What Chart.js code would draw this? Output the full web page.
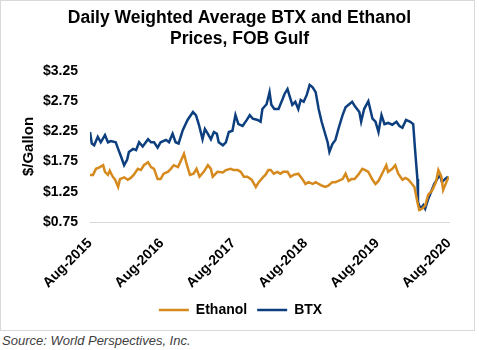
<!DOCTYPE html>
<html>
<head>
<meta charset="utf-8">
<script src="https://cdn.jsdelivr.net/npm/chart.js@4.4.1/dist/chart.umd.min.js"></script>
<style>
  html, body { margin: 0; padding: 0; background: #fff; }
  #box { position: absolute; left: 0; top: 0; width: 473px; height: 329px; border: 1px solid #d9d9d9; }
  #source { position: absolute; left: 2px; top: 333px; font: italic 13px "Liberation Sans", Arial, sans-serif; color: #404040; }
</style>
</head>
<body>
<div id="box"><canvas id="chart"></canvas></div>
<div id="source">Source: World Perspectives, Inc.</div>
<script>
// Daily weighted average BTX and Ethanol prices, FOB Gulf
// x values are months since Aug-2015

const tickLabels = ['Aug-2015', 'Aug-2016', 'Aug-2017', 'Aug-2018', 'Aug-2019', 'Aug-2020'];

const btxMonths = [0, 0.3, 0.7, 1.3, 1.8, 2.5, 3.0, 3.5, 4.3, 4.7, 5.2, 5.7, 6.2, 6.5, 7.2, 7.7, 8.2, 8.8, 9.7, 10.2,
  10.7, 11.3, 11.8, 12.7, 13.2, 13.8, 14.3, 14.8, 15.5, 16.3, 17.2, 17.7, 18.2, 18.8, 19.2, 19.7, 20.2, 20.7, 21.2, 21.5,
  22.2, 22.7, 23.2, 23.8, 24.3, 24.8, 25.5, 26.2, 26.7, 27.2, 28.0, 28.5, 28.8, 29.5, 30.0, 30.3, 30.8, 31.5, 32.2, 32.5,
  33.0, 33.3, 33.8, 34.3, 34.8, 35.2, 35.7, 36.2, 36.7, 37.2, 37.7, 38.2, 38.7, 39.2, 39.7, 40.0, 40.5, 41.0, 41.5, 42.2,
  42.7, 43.2, 43.8, 44.3, 45.0, 45.3, 45.8, 46.5, 47.2, 47.7, 48.2, 48.7, 49.2, 49.8, 50.5, 51.2, 51.7, 52.2, 52.8, 53.5,
  54.0, 54.3, 54.7, 54.8, 55.2, 55.7, 56.0, 56.5, 57.0, 57.5, 58.0, 58.5, 58.8, 59.3, 59.8];
const btxPrice = [2.24, 2.05, 2.02, 2.16, 2.07, 2.19, 2.07, 2.09, 2.07, 1.96, 1.83, 1.69, 1.78, 1.91, 1.96, 1.94, 2.07, 2.00, 2.12, 2.07,
  2.07, 1.98, 2.07, 2.11, 2.07, 2.21, 2.07, 2.05, 2.27, 2.44, 2.57, 2.52, 2.36, 2.12, 2.29, 2.21, 2.12, 2.24, 2.21, 2.07,
  2.02, 2.07, 2.24, 2.26, 2.52, 2.37, 2.34, 2.44, 2.52, 2.46, 2.44, 2.41, 2.62, 2.70, 2.90, 2.69, 2.62, 2.62, 2.79, 2.87,
  2.95, 2.85, 2.69, 2.74, 2.62, 2.77, 2.74, 2.85, 3.02, 2.98, 2.90, 2.62, 2.41, 2.24, 2.07, 1.91, 2.04, 2.11, 2.29, 2.52,
  2.65, 2.69, 2.74, 2.66, 2.57, 2.41, 2.62, 2.75, 2.46, 2.41, 2.24, 2.52, 2.37, 2.39, 2.36, 2.41, 2.34, 2.31, 2.44, 2.41,
  2.37, 1.96, 1.46, 1.08, 0.97, 1.03, 0.97, 1.13, 1.25, 1.38, 1.46, 1.53, 1.41, 1.46, 1.50];

const ethMonths = [0, 0.5, 1.0, 1.5, 2.2, 2.5, 3.0, 3.3, 3.8, 4.2, 4.7, 5.0, 5.7, 6.3, 6.8, 7.3, 8.0, 8.5, 9.0, 9.7,
  10.2, 10.7, 11.3, 11.8, 12.3, 13.0, 13.5, 14.0, 14.7, 15.3, 15.7, 16.2, 16.7, 17.3, 17.8, 18.3, 19.0, 19.7, 20.2, 20.5,
  21.3, 22.2, 22.7, 23.5, 24.0, 24.7, 25.2, 25.7, 26.3, 27.0, 27.7, 28.2, 29.0, 29.3, 29.8, 30.2, 30.7, 31.3, 31.8, 32.3,
  33.0, 33.5, 34.0, 34.8, 35.5, 36.0, 36.5, 37.2, 37.7, 38.2, 38.8, 39.3, 39.8, 40.5, 41.0, 41.5, 42.2, 42.7, 43.2, 43.7,
  44.2, 44.8, 45.5, 46.0, 46.5, 47.2, 47.7, 48.2, 48.8, 49.5, 49.8, 50.5, 51.0, 51.5, 52.2, 52.7, 53.2, 53.8, 54.2, 54.7,
  55.0, 55.5, 56.0, 56.5, 57.2, 57.8, 58.2, 58.7, 59.0, 59.7, 60.0];
const ethPrice = [1.53, 1.53, 1.63, 1.65, 1.69, 1.58, 1.53, 1.60, 1.50, 1.45, 1.33, 1.46, 1.49, 1.45, 1.48, 1.53, 1.63, 1.61, 1.69, 1.74,
  1.66, 1.63, 1.46, 1.46, 1.55, 1.58, 1.63, 1.69, 1.66, 1.79, 1.88, 1.69, 1.53, 1.55, 1.63, 1.50, 1.58, 1.69, 1.63, 1.50,
  1.58, 1.57, 1.61, 1.63, 1.61, 1.61, 1.58, 1.50, 1.50, 1.45, 1.33, 1.41, 1.50, 1.53, 1.61, 1.61, 1.55, 1.58, 1.55, 1.58,
  1.58, 1.50, 1.53, 1.55, 1.46, 1.38, 1.41, 1.38, 1.41, 1.38, 1.35, 1.33, 1.35, 1.41, 1.41, 1.43, 1.46, 1.55, 1.43, 1.46,
  1.46, 1.53, 1.63, 1.61, 1.58, 1.45, 1.38, 1.43, 1.55, 1.69, 1.58, 1.63, 1.69, 1.55, 1.45, 1.48, 1.45, 1.38, 1.33, 1.08,
  0.95, 0.97, 1.02, 1.20, 1.28, 1.41, 1.61, 1.50, 1.28, 1.45, 1.50];

const FONT = '"Liberation Sans", Arial, sans-serif';
const pts = (xs, ys) => xs.map((x, i) => ({ x: x, y: ys[i] }));

// legend and title sit centred on the whole box in the original, not on the padded area
const centreShift = {
  id: 'centreShift',
  afterLayout(chart) {
    chart.legend.left += 15; chart.legend.right += 15;
    chart.titleBlock.left += 14; chart.titleBlock.right += 14;
  }
};

new Chart(document.getElementById('chart'), {
  type: 'line',
  data: {
    datasets: [
      { label: 'Ethanol', data: pts(ethMonths, ethPrice), borderColor: '#d68a1e', backgroundColor: '#d68a1e',
        borderWidth: 2.5, pointRadius: 0, pointStyle: 'line', tension: 0 },
      { label: 'BTX', data: pts(btxMonths, btxPrice), borderColor: '#0d3f7f', backgroundColor: '#0d3f7f',
        borderWidth: 2.5, pointRadius: 0, pointStyle: 'line', tension: 0 }
    ]
  },
  options: {
    responsive: true, maintainAspectRatio: false, animation: false,
    layout: { padding: { left: 0, right: 24, top: 0, bottom: 3 } },
    plugins: {
      title: { display: true, text: ['Daily Weighted Average BTX and Ethanol', 'Prices, FOB Gulf'], color: '#000',
        font: { family: FONT, size: 17.5, weight: 'bold' }, padding: { top: 7, bottom: 21 } },
      legend: { position: 'bottom',
        labels: { color: '#000', font: { family: FONT, size: 14, weight: 'bold' }, usePointStyle: true, pointStyleWidth: 30, padding: 10 } },
      tooltip: { enabled: false }
    },
    scales: {
      x: { type: 'linear', min: 0, max: 60,
        grid: { display: false, drawTicks: false }, border: { display: true, color: '#d9d9d9', width: 1 },
        afterFit: axis => { axis.height = 71; },
        afterBuildTicks: axis => { axis.ticks = tickLabels.map((_, i) => ({ value: i * 12 })); },
        ticks: { autoSkip: false, minRotation: 45, maxRotation: 45, color: '#000', padding: 13,
          font: { family: FONT, size: 14, weight: 'bold' },
          callback: v => tickLabels[Math.round(v / 12)] } },
      y: { min: 0.75, max: 3.25,
        grid: { display: false, drawTicks: false }, border: { display: false },
        afterFit: axis => { axis.width = 89; },
        afterBuildTicks: axis => { axis.ticks = [0.75, 1.25, 1.75, 2.25, 2.75, 3.25].map(v => ({ value: v })); },
        title: { display: true, text: '$/Gallon', color: '#000', font: { family: FONT, size: 15, weight: 'bold' }, padding: { top: 19, bottom: 6 } },
        ticks: { color: '#000', padding: 12, font: { family: FONT, size: 14, weight: 'bold' },
          callback: v => '$' + v.toFixed(2) } }
    }
  },
  plugins: [centreShift]
});
</script>
</body>
</html>
